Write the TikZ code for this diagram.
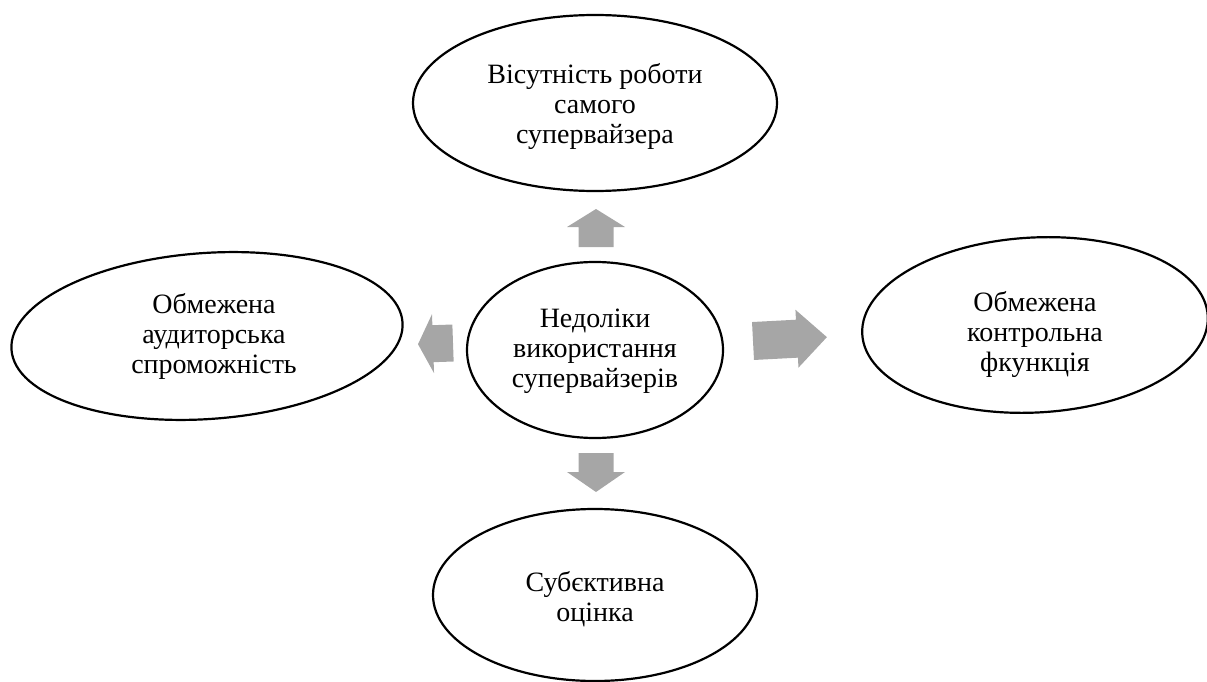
\documentclass[tikz,border=0pt]{standalone}
\usepackage{fontspec}
\setmainfont{Liberation Serif}
\usetikzlibrary{shapes.geometric}
\definecolor{arrowgray}{HTML}{A6A6A6}
\tikzset{
  oval/.style={ellipse, draw=black, line width=2.2pt, inner sep=0pt, fill=white},
  oval text/.style={align=center, inner sep=0pt, font=\fontsize{28}{30}\selectfont},
}
% block arrow: #1 base point, #2 angle, #3 length, #4 head length, #5 shaft half width, #6 head half width
\newcommand\blockarrow[6]{%
  \fill[arrowgray, shift={#1}, rotate=#2]
    (0,-#5) -- (#3-#4,-#5) -- (#3-#4,-#6) -- (#3,0) -- (#3-#4,#6) -- (#3-#4,#5) -- (0,#5) -- cycle;}
\begin{document}
\begin{tikzpicture}[x=1pt, y=-1pt]
\useasboundingbox (0,0) rectangle (1207,682);
% ellipses
\node[oval, minimum width=364pt, minimum height=176pt] (top) at (595,103) {};
\node[oval, minimum width=256pt, minimum height=176pt] (mid) at (595,350) {};
\node[oval, minimum width=324pt, minimum height=172pt] (bot) at (595,595) {};
\node[oval, minimum width=392pt, minimum height=166pt, rotate=4] (lft) at (207,336) {};
\node[oval, minimum width=346pt, minimum height=175pt, rotate=3] (rgt) at (1035,325) {};
% texts
\node[oval text] (toptext) at (top.center) [yshift=-3pt] {Вісутність роботи\\самого\\супервайзера};
\node[oval text] (midtext) at (mid.center) [yshift=-1.5pt] {Недоліки\\використання\\супервайзерів};
\node[oval text] (bottext) at (bot.center) [yshift=-4pt] {Субєктивна\\оцінка};
\node[oval text] (lfttext) at (lft.center) [xshift=7pt] {Обмежена\\аудиторська\\спроможність};
\node[oval text] (rgttext) at (rgt.center) [yshift=-9pt] {Обмежена\\контрольна\\фкункція};
% block arrows
\blockarrow{(596,247)}{90}{38}{18}{17.5}{29}
\blockarrow{(596,453)}{-90}{39}{20}{17.5}{29}
\blockarrow{(453,343)}{182}{35}{15}{18.5}{29.5}
\blockarrow{(753,341)}{3}{74}{30}{19}{29}
\end{tikzpicture}
\end{document}
